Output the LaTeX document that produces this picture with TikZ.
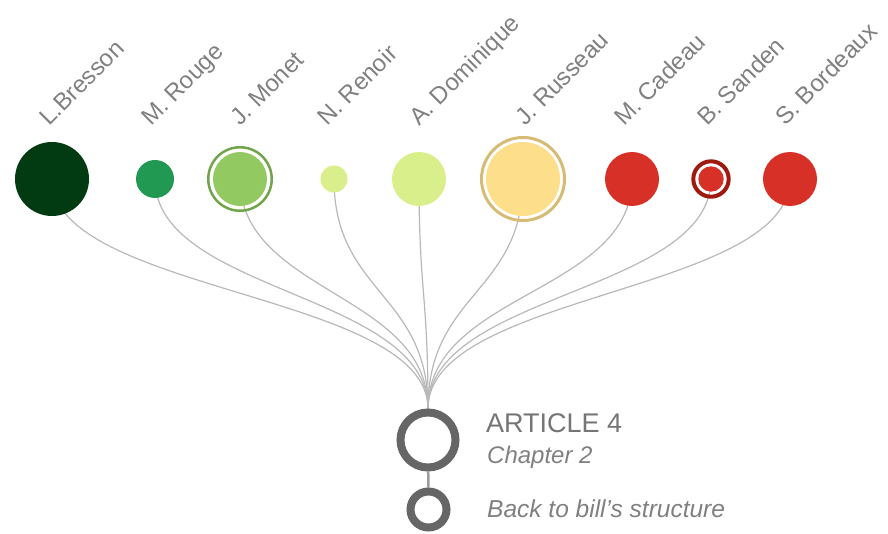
\documentclass[tikz,border=0pt]{standalone}
\usepackage{fontspec}
\setmainfont{Liberation Sans}
\usepackage{xcolor}
\usetikzlibrary{positioning,calc,backgrounds}

\definecolor{bressoncol}{HTML}{023A12}
\definecolor{rougecol}{HTML}{229953}
\definecolor{monetcol}{HTML}{93C961}
\definecolor{monetringcol}{HTML}{72A44A}
\definecolor{palegreen}{HTML}{D9EF8B}
\definecolor{russeaucol}{HTML}{FDDE8B}
\definecolor{russeauringcol}{HTML}{D6BB74}
\definecolor{redcol}{HTML}{D73027}
\definecolor{sandenringcol}{HTML}{A0190F}
\definecolor{linkgray}{HTML}{B8B8B8}
\definecolor{ringgray}{HTML}{666666}
\definecolor{labelgray}{HTML}{808080}

\tikzset{
    person/.style={circle, inner sep=0pt, minimum size=#1},
    halo/.style={circle, inner sep=0pt, minimum size=#1, line width=2.5pt},
    namelabel/.style={rotate=45, anchor=base west, inner sep=0pt, text=labelgray, font=\fontsize{24}{28}\selectfont},
    link/.style={linkgray, line width=1.2pt},
    hubring/.style={circle, inner sep=0pt, draw=ringgray, line width=8pt, minimum size=#1}
}

\begin{document}
\begin{tikzpicture}[x=1pt, y=-1pt]
    \useasboundingbox (0,0) rectangle (888,534);

    % Members
    \node[person=74pt, fill=bressoncol] (bresson) at (52,179) {};
    \node[person=38pt, fill=rougecol] (rouge) at (155,179) {};
    \node[person=54pt, fill=monetcol] (monet) at (240,179) {};
    \node[halo=63.5pt, draw=monetringcol] (monetring) at (monet) {};
    \node[person=27pt, fill=palegreen] (renoir) at (334,179) {};
    \node[person=54pt, fill=palegreen] (dominique) at (419,179) {};
    \node[person=74pt, fill=russeaucol] (russeau) at (523,179) {};
    \node[halo=83pt, draw=russeauringcol, line width=3pt] (russeauring) at (russeau) {};
    \node[person=54pt, fill=redcol] (cadeau) at (632,179) {};
    \node[person=25.4pt, fill=redcol] (sanden) at (711,179) {};
    \node[halo=35.4pt, draw=sandenringcol, line width=4pt] (sandenring) at (sanden) {};
    \node[person=54pt, fill=redcol] (bordeaux) at (790,179) {};

    % Names
    \node[namelabel] (bressonname) at (49,127) {L.Bresson};
    \node[namelabel] (rougename) at (151,127) {M. Rouge};
    \node[namelabel] (monetname) at (240,127) {J. Monet};
    \node[namelabel] (renoirname) at (327,127) {N. Renoir};
    \node[namelabel] (dominiquename) at (419,127) {A. Dominique};
    \node[namelabel] (russeauname) at (525,127) {J. Russeau};
    \node[namelabel] (cadeauname) at (624,127) {M. Cadeau};
    \node[namelabel] (sandenname) at (707,127) {B. Sanden};
    \node[namelabel] (bordeauxname) at (785,127) {S. Bordeaux};

    % Article and way back
    \node[hubring=55pt] (article) at (428,440) {};
    \node[hubring=36pt] (back) at (428.5,509.5) {};
    \coordinate (mid) at (428,293);

    \node[anchor=base west, inner sep=0pt, text=ringgray!90, font=\fontsize{27}{31}\selectfont] (title) at (486,432) {ARTICLE 4};
    \node[anchor=base west, inner sep=0pt, text=labelgray, font=\fontsize{24}{28}\selectfont\itshape] (chapter) at (487,463) {Chapter 2};
    \node[anchor=base west, inner sep=0pt, text=labelgray, font=\fontsize{24.5}{28}\selectfont\itshape] (backtext) at (487,517) {Back to bill’s structure};

    % Links
    \begin{scope}[on background layer]
        \draw[link] (bresson.center) .. controls (bresson |- mid) and (mid) .. (article.north);
        \draw[link] (rouge.center) .. controls (rouge |- mid) and (mid) .. (article.north);
        \draw[link] (monet.center) .. controls (monet |- mid) and (mid) .. (article.north);
        \draw[link] (renoir.center) .. controls (renoir |- mid) and (mid) .. (article.north);
        \draw[link] (dominique.center) .. controls (dominique |- mid) and (mid) .. (article.north);
        \draw[link] (russeau.center) .. controls (russeau |- mid) and (mid) .. (article.north);
        \draw[link] (cadeau.center) .. controls (cadeau |- mid) and (mid) .. (article.north);
        \draw[link] (sanden.center) .. controls (sanden |- mid) and (mid) .. (article.north);
        \draw[link] (bordeaux.center) .. controls (bordeaux |- mid) and (mid) .. (article.north);
        \draw[linkgray!85!black, line width=2.5pt] (article) -- (back);
    \end{scope}
\end{tikzpicture}
\end{document}
